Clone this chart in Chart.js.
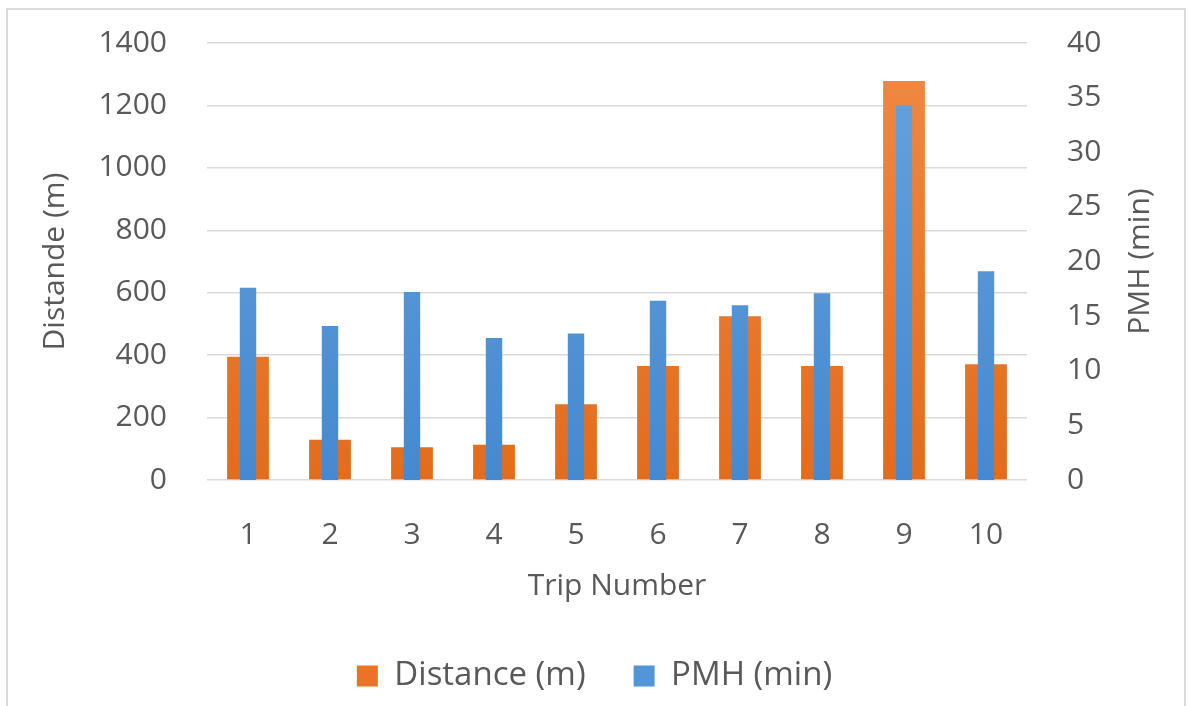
<!DOCTYPE html>
<html>
<head>
<meta charset="utf-8">
<script src="https://cdn.jsdelivr.net/npm/chart.js@4/dist/chart.umd.min.js"></script>
<style>
  html, body { margin: 0; padding: 0; background: #fff; }
  #frame { position: absolute; left: 6px; top: 8px; width: 1180px; height: 700px; border: 2px solid #d9d9d9; border-bottom: none; box-sizing: border-box; }
  #holder { position: absolute; left: 0; top: 0; width: 1189px; height: 706px; }
</style>
</head>
<body>
<div id="frame"></div>
<div id="holder"><canvas id="trip_chart"></canvas></div>
<script>
// chart data
var trip_numbers = ["1", "2", "3", "4", "5", "6", "7", "8", "9", "10"];
var distance_m = [395, 129, 105, 113, 243, 365, 525, 365, 1278, 371];
var pmh_min = [17.6, 14.1, 17.2, 13.0, 13.4, 16.4, 16.0, 17.1, 34.3, 19.1];
var distance_ticks = [0, 200, 400, 600, 800, 1000, 1200, 1400];
var pmh_ticks = [0, 5, 10, 15, 20, 25, 30, 35, 40];

var left_title = "Distande (m)";
var right_title = "PMH (min)";
var x_title = "Trip Number";

var text_colour = "#595959";
var grid_colour = "#d9d9d9";
var font_family = "'Open Sans', 'Noto Sans', sans-serif";
var font_size = 30;

// vertical shading like the office style bars
function bar_gradient(top_colour, bottom_colour){
    return function(context){
        var area = context.chart.chartArea;
        if(!area) return bottom_colour;
        var g = context.chart.ctx.createLinearGradient(0, area.top, 0, area.bottom);
        g.addColorStop(0, top_colour);
        g.addColorStop(1, bottom_colour);
        return g;
    };
}

function plain_number(value){ return String(value); } // no thousands separator

// keep the plot box where the layout padding puts it
function fixed_vertical(width){
    return function(scale){
        scale.width = width;
        scale.paddingTop = 0;
        scale.paddingBottom = 0;
    };
}

// right axis title reads bottom to top in the original, so draw it here
var right_title_plugin = {
    id: "right_title_plugin",
    afterDraw: function(chart){
        var ctx = chart.ctx;
        var area = chart.chartArea;
        ctx.save();
        ctx.translate(1140, (area.top + area.bottom) / 2);
        ctx.rotate(-Math.PI / 2);
        ctx.font = font_size + "px " + font_family;
        ctx.fillStyle = text_colour;
        ctx.textAlign = "center";
        ctx.textBaseline = "middle";
        ctx.fillText(right_title, 0, 0);
        ctx.restore();
    }
};

var ctx = document.getElementById("trip_chart").getContext("2d");
var the_chart = new Chart(ctx, {
    type: "bar",
    data: {
        labels: trip_numbers,
        datasets: [
            {
                label: "Distance (m)",
                data: distance_m,
                yAxisID: "y",
                order: 1,
                grouped: false,
                categoryPercentage: 1,
                barPercentage: 0.51,
                backgroundColor: bar_gradient("#f08a45", "#e36c1c"),
                borderWidth: 0
            },
            {
                label: "PMH (min)",
                data: pmh_min,
                yAxisID: "y1",
                order: 0,
                grouped: false,
                categoryPercentage: 1,
                barPercentage: 0.2,
                backgroundColor: bar_gradient("#68a3dc", "#4589d0"),
                borderWidth: 0
            }
        ]
    },
    options: {
        responsive: true,
        maintainAspectRatio: false,
        animation: false,
        layout: { padding: { top: 43, left: 0, right: 0, bottom: 3.5 } },
        plugins: {
            tooltip: { enabled: false },
            legend: {
                position: "bottom",
                labels: {
                    color: text_colour,
                    font: { family: font_family, size: 33 },
                    boxWidth: 21,
                    boxHeight: 21,
                    padding: 48,
                    generateLabels: function(chart){
                        var fills = ["#ec7326", "#5096d8"];
                        return chart.data.datasets.map(function(ds, i){
                            return { text: ds.label, fillStyle: fills[i], strokeStyle: fills[i], lineWidth: 0, datasetIndex: i, fontColor: text_colour };
                        });
                    }
                }
            }
        },
        scales: {
            x: {
                grid: { display: false, drawTicks: false },
                border: { display: false },
                ticks: { color: text_colour, font: { family: font_family, size: font_size }, padding: 37 },
                title: { display: true, text: x_title, color: text_colour, font: { family: font_family, size: font_size }, padding: { top: 0, bottom: 7.5 } },
                afterFit: function(scale){ scale.height = 131.5; scale.paddingLeft = 0; scale.paddingRight = 0; }
            },
            y: {
                position: "left",
                min: 0,
                max: 1400,
                afterBuildTicks: function(scale){ scale.ticks = distance_ticks.map(function(v){ return { value: v }; }); },
                grid: { color: grid_colour, lineWidth: 1.5, drawTicks: false },
                border: { display: false },
                ticks: { color: text_colour, font: { family: font_family, size: font_size }, padding: 40, callback: plain_number },
                title: { display: true, text: left_title, color: text_colour, font: { family: font_family, size: font_size }, padding: { top: 37, bottom: 0 } },
                afterFit: fixed_vertical(207)
            },
            y1: {
                position: "right",
                min: 0,
                max: 40,
                afterBuildTicks: function(scale){ scale.ticks = pmh_ticks.map(function(v){ return { value: v }; }); },
                grid: { display: false, drawTicks: false },
                border: { display: false },
                ticks: { color: text_colour, font: { family: font_family, size: font_size }, padding: 40, callback: plain_number },
                afterFit: fixed_vertical(162)
            }
        }
    },
    plugins: [right_title_plugin]
});
</script>
</body>
</html>
